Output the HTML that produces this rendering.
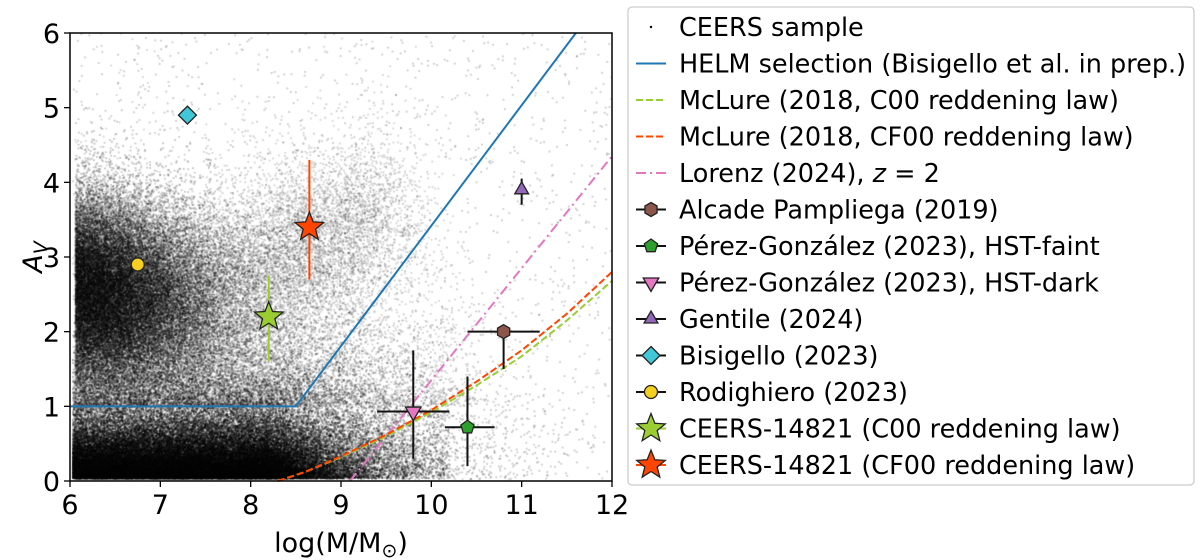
<!DOCTYPE html>
<html><head><meta charset="utf-8">
<style>
body{margin:0;background:#fff;}
#wrap{position:relative;width:1200px;height:560px;overflow:hidden;background:#fff;font-family:"DejaVu Sans","Liberation Sans",sans-serif;}
canvas,svg{position:absolute;left:0;top:0;}
</style></head>
<body>
<div id="wrap">
<canvas id="cv" width="1200" height="560"></canvas>
<svg id="sv" width="1200" height="560"></svg>
</div>
<script>
const xTicks=[6,7,8,9,10,11,12];
const yTicks=[0,1,2,3,4,5,6];
const helmX=[6,8.5,11.6];
const helmY=[1,1,6];
const mcX=[8.3,8.6,9.0,9.5,10.0,10.5,11.0,11.5,12.0];
const mcC00=[0,0.12,0.32,0.6,0.92,1.28,1.67,2.15,2.68];
const mcCF00=[0,0.12,0.33,0.62,0.95,1.33,1.75,2.24,2.8];
const loX=[9.1,12];
const loY=[0,4.35];
const alcade=[10.8,2.0,10.4,11.2,1.5,2.0];
const perezFaint=[10.4,0.72,10.15,10.7,0.2,1.4];
const perezDark=[9.8,0.93,9.4,10.2,0.3,1.75];
const gentile=[11.0,3.9,11.0,11.0,3.7,4.05];
const bisigello=[7.3,4.9];
const rodighiero=[6.75,2.9];
const starC00=[8.2,2.2,8.2,8.2,1.6,2.75];
const starCF00=[8.65,3.4,8.65,8.65,2.7,4.3];

const X0=70,X1=612,Y0=481,Y1=33;
const sx=v=>X0+(v-6)/6*(X1-X0);
const sy=v=>Y0-(v/6)*(Y0-Y1);

const cv=document.getElementById('cv');const ctx=cv.getContext('2d');
let seed=12345;function rnd(){seed=(seed*1664525+1013904223)>>>0;return seed/4294967296;}
function nrm(){return Math.sqrt(-2*Math.log(rnd()+1e-9))*Math.cos(6.2832*rnd());}
function ex(){return -Math.log(rnd()+1e-9);}
ctx.save();ctx.beginPath();ctx.rect(X0,Y1,X1-X0,Y0-Y1);ctx.clip();
function dot(x,y,a){if(x<6.03||y<0.02)return;ctx.fillStyle='rgba(0,0,0,'+a+')';ctx.fillRect(sx(x)-0.9,sy(y)-0.9,1.8,1.8);}
// core
for(let i=0;i<100000;i++){
 let x=6+rnd()*4.2;
 if(x>8.2&&rnd()>Math.exp(-(x-8.2)*1.7))continue;
 let s=0.33*(x>8.2?1+(x-8.2)*0.4:1);
 let y=ex()*s+0.03;
 if(y>2.2)continue;
 dot(x,y,0.3);
}
// plume left
for(let i=0;i<40000;i++){
 let x=6.06+Math.abs(nrm())*0.75;
 let y=2.45+nrm()*0.65-(x-6.8)*0.15;
 if(y<0.9)continue;
 dot(x,y,0.24);
}
// diagonal band
for(let i=0;i<8000;i++){
 let t=rnd(); let x=7.2+t*2.3+nrm()*0.35; let y=2.3+t*1.3+nrm()*0.6;
 if(y<0.6)continue;
 dot(x,y,0.18);
}
// transition mid
for(let i=0;i<12000;i++){
 let x=6+rnd()*4.5; let y=1+ex()*0.8;
 if(x>8.3&&rnd()>Math.exp(-(x-8.3)*0.9))continue;
 dot(x,y,0.18);
}
// sparse
for(let i=0;i<1800;i++){ dot(6+rnd()*6,rnd()*6,0.22); }
for(let i=0;i<1500;i++){ dot(9.6+nrm()*0.8,Math.abs(nrm())*0.7,0.22); }
ctx.restore();

const S=document.getElementById('sv');const NS='http://www.w3.org/2000/svg';
function mk(tag,attrs,parent){const e=document.createElementNS(NS,tag);for(const k in attrs)e.setAttribute(k,attrs[k]);(parent||S).appendChild(e);return e;}
const pts=(xs,ys)=>xs.map((x,i)=>sx(x)+','+sy(ys[i])).join(' ');
const clip=mk('clipPath',{id:'pc'});mk('rect',{x:X0,y:Y1,width:X1-X0,height:Y0-Y1},clip);

let e;
e=mk('polyline',{points:pts(helmX,helmY),fill:'none',stroke:'#1f77b4','stroke-width':2,'clip-path':'url(#pc)'});

e=mk('polyline',{points:pts(loX,loY),fill:'none',stroke:'#e377c2','stroke-width':2,'stroke-dasharray':'10 4 2 4','clip-path':'url(#pc)'});

e=mk('polyline',{points:pts(mcX,mcC00),fill:'none',stroke:'#9acd32','stroke-width':2,'stroke-dasharray':'7 3'});

e=mk('polyline',{points:pts(mcX,mcCF00),fill:'none',stroke:'#ff4500','stroke-width':2,'stroke-dasharray':'7 3'});


function errbar(p,col,name){const g=mk('g',{});
 
 if(p[2]!==p[3])mk('line',{x1:sx(p[2]),x2:sx(p[3]),y1:sy(p[1]),y2:sy(p[1]),stroke:col,'stroke-width':2},g);
 if(p[4]!==p[5])mk('line',{x1:sx(p[0]),x2:sx(p[0]),y1:sy(p[4]),y2:sy(p[5]),stroke:col,'stroke-width':2},g);}
function poly(cx,cy,r,n,rot){let a=[];for(let i=0;i<n;i++){const t=rot+i*2*Math.PI/n;a.push((cx+r*Math.cos(t))+','+(cy+r*Math.sin(t)));}return a.join(' ');}
function star(cx,cy,R,r){let a=[];for(let i=0;i<10;i++){const t=-Math.PI/2+i*Math.PI/5,rr=i%2?r:R;a.push((cx+rr*Math.cos(t))+','+(cy+rr*Math.sin(t)));}return a.join(' ');}
function marker(kind,cx,cy,fill,name,size){let m;size=size||1;
 if(kind==='hex')m=mk('polygon',{points:poly(cx,cy,7*size,6,-Math.PI/2)});
 if(kind==='pent')m=mk('polygon',{points:poly(cx,cy,7*size,5,-Math.PI/2)});
 if(kind==='tdown')m=mk('polygon',{points:poly(cx,cy,9*size,3,Math.PI/2)});
 if(kind==='tup')m=mk('polygon',{points:poly(cx,cy,8*size,3,-Math.PI/2)});
 if(kind==='diam')m=mk('polygon',{points:poly(cx,cy,9*size,4,-Math.PI/2)});
 if(kind==='circ')m=mk('circle',{cx:cx,cy:cy,r:6.5*size});
 if(kind==='star')m=mk('polygon',{points:star(cx,cy,15*size,6.5*size)});
 m.setAttribute('fill',fill);m.setAttribute('stroke','#222');m.setAttribute('stroke-width',1.3);
 return m;}

errbar(alcade,'#111','alcade');marker('hex',sx(alcade[0]),sy(alcade[1]),'#8c564b','alcade-point');
errbar(perezFaint,'#111','perez-faint');marker('pent',sx(perezFaint[0]),sy(perezFaint[1]),'#2ca02c','perez-faint-point');
errbar(perezDark,'#111','perez-dark');marker('tdown',sx(perezDark[0]),sy(perezDark[1]),'#e377c2','perez-dark-point');
errbar(gentile,'#111','gentile');marker('tup',sx(gentile[0]),sy(gentile[1]),'#9467bd','gentile-point');
marker('diam',sx(bisigello[0]),sy(bisigello[1]),'#40c8d8','bisigello-point');
marker('circ',sx(rodighiero[0]),sy(rodighiero[1]),'#f5d020','rodighiero-point');
errbar(starC00,'#9acd32','ceers-c00');marker('star',sx(starC00[0]),sy(starC00[1]),'#9acd32','ceers-c00-star');
errbar(starCF00,'#ff4500','ceers-cf00');marker('star',sx(starCF00[0]),sy(starCF00[1]),'#ff4500','ceers-cf00-star');

e=mk('rect',{x:X0,y:Y1,width:X1-X0,height:Y0-Y1,fill:'none',stroke:'#000','stroke-width':1.5});

xTicks.forEach(t=>{mk('line',{x1:sx(t),x2:sx(t),y1:Y0,y2:Y0+6,stroke:'#000','stroke-width':1.3});
 const tx=mk('text',{x:sx(t),y:Y0+33,'text-anchor':'middle','font-size':27});tx.textContent=t;
 });
yTicks.forEach(t=>{mk('line',{x1:X0-6,x2:X0,y1:sy(t),y2:sy(t),stroke:'#000','stroke-width':1.3});
 const tx=mk('text',{x:X0-10,y:sy(t)+10,'text-anchor':'end','font-size':27});tx.textContent=t;
 });
e=mk('text',{x:341,y:552,'text-anchor':'middle','font-size':27});
e.innerHTML='log(M/M<tspan font-size="19" dy="5">⊙</tspan><tspan dy="-5">)</tspan>';

e=mk('text',{x:0,y:0,'font-size':27,'font-style':'italic',transform:'translate(42,257) rotate(-90)','text-anchor':'middle'});
e.innerHTML='A<tspan font-size="19" dy="5">V</tspan>';


const lg=mk('g',{});
mk('rect',{x:628,y:7,width:566,height:478,rx:4,fill:'#fff',stroke:'#ccc','stroke-width':1.3},lg);
const labels=['CEERS sample','HELM selection (Bisigello et al. in prep.)','McLure (2018, C00 reddening law)','McLure (2018, CF00 reddening law)','Lorenz (2024), <tspan font-style="italic">z</tspan> = 2','Alcade Pampliega (2019)','Pérez-González (2023), HST-faint','Pérez-González (2023), HST-dark','Gentile (2024)','Bisigello (2023)','Rodighiero (2023)','CEERS-14821 (C00 reddening law)','CEERS-14821 (CF00 reddening law)'];
labels.forEach((l,i)=>{const y=27+i*36.5;const g=mk('g',{},lg);
 
 const t=mk('text',{x:679,y:y+9,'font-size':25.5},g);t.innerHTML=l;
 const cx=651;
 if(i===0)mk('circle',{cx:cx,cy:y,r:1.2,fill:'#000'},g);
 if(i===1)mk('line',{x1:636,x2:666,y1:y,y2:y,stroke:'#1f77b4','stroke-width':2},g);
 if(i===2)mk('line',{x1:636,x2:666,y1:y,y2:y,stroke:'#9acd32','stroke-width':2,'stroke-dasharray':'7 3'},g);
 if(i===3)mk('line',{x1:636,x2:666,y1:y,y2:y,stroke:'#ff4500','stroke-width':2,'stroke-dasharray':'7 3'},g);
 if(i===4)mk('line',{x1:636,x2:666,y1:y,y2:y,stroke:'#e377c2','stroke-width':2,'stroke-dasharray':'10 4 2 4'},g);
 if(i>=5){mk('line',{x1:636,x2:666,y1:y,y2:y,stroke:i>=11?(i===11?'#9acd32':'#ff4500'):'#111','stroke-width':2},g);
  const kinds=['hex','pent','tdown','tup','diam','circ','star','star'];
  const fills=['#8c564b','#2ca02c','#e377c2','#9467bd','#40c8d8','#f5d020','#9acd32','#ff4500'];
  const m=marker(kinds[i-5],cx,y,fills[i-5],'legend-marker');g.appendChild(m);}
});
</script>
</body></html>
